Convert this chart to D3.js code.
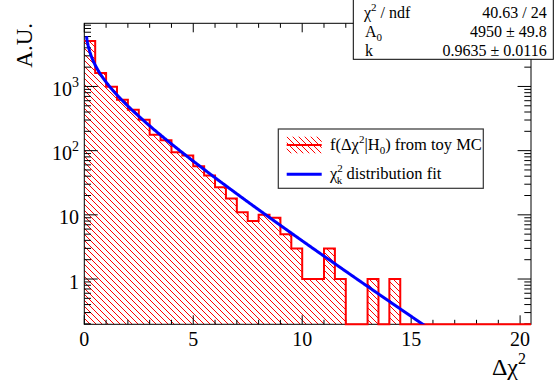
<!DOCTYPE html>
<html>
<head>
<meta charset="utf-8">
<script src="https://cdn.jsdelivr.net/npm/d3@7"></script>
<style>
  html, body { margin: 0; padding: 0; background: #fff; }
  svg { display: block; }
</style>
</head>
<body>
<svg id="chart" width="555" height="385" font-family="'Liberation Serif', 'DejaVu Serif', serif"></svg>
<script>
// ---------------- data ----------------
const binWidth = 0.5;
const xRange = [0, 20.5];
const counts = [5116, 1614, 990, 622, 435, 304, 177, 145, 94, 84,
                57, 41, 27, 18, 11, 8, 10, 9, 5, 3,
                1, 1, 3, 1, 0, 0, 1, 0, 1, 0,
                0, 0, 0, 0, 0, 0, 0, 0, 0, 0, 0];
const fitA0 = 4950;
const fitK = 0.9635;
const fitRange = [0.1, 20.5];
const xMajorTicks = [0, 5, 10, 15, 20];
const xTickLabels = ["0", "5", "10", "15", "20"];
const yMajorTicks = [1, 10, 100, 1000];
const yTickLabels = [["1", null], ["10", null], ["10", "2"], ["10", "3"]];
const statsValues = ["40.63 / 24", "4950 ± 49.8", "0.9635 ± 0.0116"];

// ---------------- layout ----------------
const frame = { left: 84.3, right: 531, top: 23.3, bottom: 324.3 };
const svg = d3.select("#chart");
const FONT = "'Liberation Serif', 'Times New Roman', 'DejaVu Serif', serif";

const x = d3.scaleLinear().domain(xRange).range([frame.left, frame.right]);
const y = d3.scaleLog().domain([0.197, 9640]).range([frame.bottom, frame.top]);

// hatch pattern (ROOT 3005 style)
const defs = svg.append("defs");
const pat = defs.append("pattern").attr("id", "hatch")
  .attr("patternUnits", "userSpaceOnUse").attr("width", 6).attr("height", 6);
pat.append("path").attr("d", "M-1,-1 L7,7 M-1,5 L1,7 M5,-1 L7,1")
  .attr("stroke", "#ff0000").attr("stroke-width", 1).attr("fill", "none");
defs.append("clipPath").attr("id", "clipFrame").append("rect")
  .attr("x", frame.left).attr("y", frame.top)
  .attr("width", frame.right - frame.left).attr("height", frame.bottom - frame.top);

// ---------------- histogram ----------------
const bins = counts.map((c, i) => ({ x0: xRange[0] + i * binWidth, x1: xRange[0] + (i + 1) * binWidth, c }));
const yVal = c => c > 0 ? y(c) : frame.bottom;

let fillPts = [[x(bins[0].x0), frame.bottom]];
bins.forEach(b => { fillPts.push([x(b.x0), yVal(b.c)]); fillPts.push([x(b.x1), yVal(b.c)]); });
fillPts.push([x(bins[bins.length - 1].x1), frame.bottom]);
svg.append("path").attr("d", d3.line()(fillPts) + "Z")
  .attr("fill", "url(#hatch)").attr("stroke", "none");

// frame / axes lines
const axG = svg.append("g").attr("stroke", "#000").attr("stroke-width", 1).attr("fill", "none");
axG.append("rect").attr("x", frame.left).attr("y", frame.top)
  .attr("width", frame.right - frame.left).attr("height", frame.bottom - frame.top);

const xMinor = d3.range(0, 21, 1);
const majL = 9, minL = 4.5;
xMinor.forEach(v => {
  const L = xMajorTicks.includes(v) ? majL : minL;
  axG.append("line").attr("x1", x(v)).attr("x2", x(v)).attr("y1", frame.bottom).attr("y2", frame.bottom - L);
  axG.append("line").attr("x1", x(v)).attr("x2", x(v)).attr("y1", frame.top).attr("y2", frame.top + L);
});
const yMajL = 13.4, yMinL = 6.7;
const yTicksAll = [];
[-1, 0, 1, 2, 3].forEach(e => {
  for (let m = 1; m <= 9; m++) {
    const v = m * Math.pow(10, e);
    if (v >= y.domain()[0] && v <= y.domain()[1]) yTicksAll.push({ v, major: m === 1 });
  }
});
yTicksAll.forEach(t => {
  const L = t.major ? yMajL : yMinL;
  axG.append("line").attr("x1", frame.left).attr("x2", frame.left + L).attr("y1", y(t.v)).attr("y2", y(t.v));
  axG.append("line").attr("x1", frame.right).attr("x2", frame.right - L).attr("y1", y(t.v)).attr("y2", y(t.v));
});

// histogram outline
let linePts = [];
bins.forEach(b => { linePts.push([x(b.x0), yVal(b.c)]); linePts.push([x(b.x1), yVal(b.c)]); });
svg.append("path").attr("d", d3.line()(linePts))
  .attr("fill", "none").attr("stroke", "#ff0000").attr("stroke-width", 2)
  .attr("stroke-linejoin", "miter");

// ---------------- fit ----------------
function gammaFn(z) {
  const g = 7, c = [0.99999999999980993, 676.5203681218851, -1259.1392167224028, 771.32342877765313,
    -176.61502916214059, 12.507343278686905, -0.13857109526572012, 9.9843695780195716e-6, 1.5056327351493116e-7];
  if (z < 0.5) return Math.PI / (Math.sin(Math.PI * z) * gammaFn(1 - z));
  z -= 1;
  let a = c[0];
  for (let i = 1; i < g + 2; i++) a += c[i] / (z + i);
  const t = z + g + 0.5;
  return Math.sqrt(2 * Math.PI) * Math.pow(t, z + 0.5) * Math.exp(-t) * a;
}
const norm = 1 / (Math.pow(2, fitK / 2) * gammaFn(fitK / 2));
const fitF = v => fitA0 * norm * Math.pow(v, fitK / 2 - 1) * Math.exp(-v / 2);
const fitPts = d3.range(0, 801).map(i => fitRange[0] + (fitRange[1] - fitRange[0]) * i / 800)
  .map(v => [x(v), y(Math.max(fitF(v), 1e-3))]);
svg.append("path").attr("d", d3.line()(fitPts)).attr("clip-path", "url(#clipFrame)")
  .attr("fill", "none").attr("stroke", "#0000ff").attr("stroke-width", 3);

// ---------------- labels ----------------
const T = sel => sel.attr("font-family", FONT).attr("fill", "#000");
xMajorTicks.forEach((v, i) => {
  T(svg.append("text")).attr("x", x(v)).attr("y", 346).attr("text-anchor", "middle")
    .attr("font-size", 20).text(xTickLabels[i]);
});
yMajorTicks.forEach((v, i) => {
  const t = T(svg.append("text")).attr("x", 79).attr("y", y(v) + 9.5).attr("text-anchor", "end").attr("font-size", 20);
  t.append("tspan").text(yTickLabels[i][0]);
  if (yTickLabels[i][1]) t.append("tspan").attr("font-size", 14).attr("dy", -9).text(yTickLabels[i][1]);
});
T(svg.append("text")).attr("transform", "translate(32,23) rotate(-90)")
  .attr("text-anchor", "end").attr("font-size", 23).text("A.U.");
const xt = T(svg.append("text")).attr("x", 526).attr("y", 375).attr("text-anchor", "end").attr("font-size", 24);
xt.append("tspan").text("Δχ");
xt.append("tspan").attr("font-size", 16).attr("dy", -11).text("2");

// ---------------- legend ----------------
const lg = svg.append("g");
lg.append("rect").attr("x", 278.3).attr("y", 129).attr("width", 205).attr("height", 59.3)
  .attr("fill", "#fff").attr("stroke", "#333").attr("stroke-width", 1.2);
lg.append("rect").attr("x", 286.7).attr("y", 136.7).attr("width", 35).attr("height", 16.6)
  .attr("fill", "url(#hatch)");
lg.append("line").attr("x1", 286.7).attr("x2", 321.7).attr("y1", 145).attr("y2", 145)
  .attr("stroke", "#ff0000").attr("stroke-width", 2);
lg.append("line").attr("x1", 286.7).attr("x2", 321.7).attr("y1", 174.3).attr("y2", 174.3)
  .attr("stroke", "#0000ff").attr("stroke-width", 3);
const l1 = T(lg.append("text")).attr("x", 330).attr("y", 150).attr("font-size", 16.5);
l1.append("tspan").text("f(Δχ");
l1.append("tspan").attr("font-size", 11).attr("dy", -7).text("2");
l1.append("tspan").attr("dy", 7).text("|H");
l1.append("tspan").attr("font-size", 11).attr("dy", 4).text("0");
l1.append("tspan").attr("dy", -4).text(") from toy MC");
const l2 = T(lg.append("text")).attr("x", 330).attr("y", 179).attr("font-size", 16.5);
l2.append("tspan").text("χ");
l2.append("tspan").attr("font-size", 11).attr("dy", -7).text("2");
l2.append("tspan").attr("font-size", 11).attr("dx", -6).attr("dy", 12).text("k");
l2.append("tspan").attr("dy", -5).text(" distribution fit");

// ---------------- stats box ----------------
const sb = svg.append("g");
sb.append("rect").attr("x", 353.3).attr("y", -2).attr("width", 200).attr("height", 61.3)
  .attr("fill", "#fff").attr("stroke", "#000").attr("stroke-width", 1);
const rowY = [18, 36.7, 56];
const s1 = T(sb.append("text")).attr("x", 364).attr("y", rowY[0]).attr("font-size", 16);
s1.append("tspan").text("χ");
s1.append("tspan").attr("font-size", 11).attr("dy", -7).text("2");
s1.append("tspan").attr("dy", 7).text(" / ndf");
const s2 = T(sb.append("text")).attr("x", 365).attr("y", rowY[1]).attr("font-size", 16);
s2.append("tspan").text("A");
s2.append("tspan").attr("font-size", 11).attr("dy", 4).text("0");
T(sb.append("text")).attr("x", 365).attr("y", rowY[2]).attr("font-size", 16).text("k");
statsValues.forEach((s, i) => {
  T(sb.append("text")).attr("x", 546.7).attr("y", rowY[i]).attr("text-anchor", "end")
    .attr("font-size", 16).text(s);
});
</script>
</body>
</html>
